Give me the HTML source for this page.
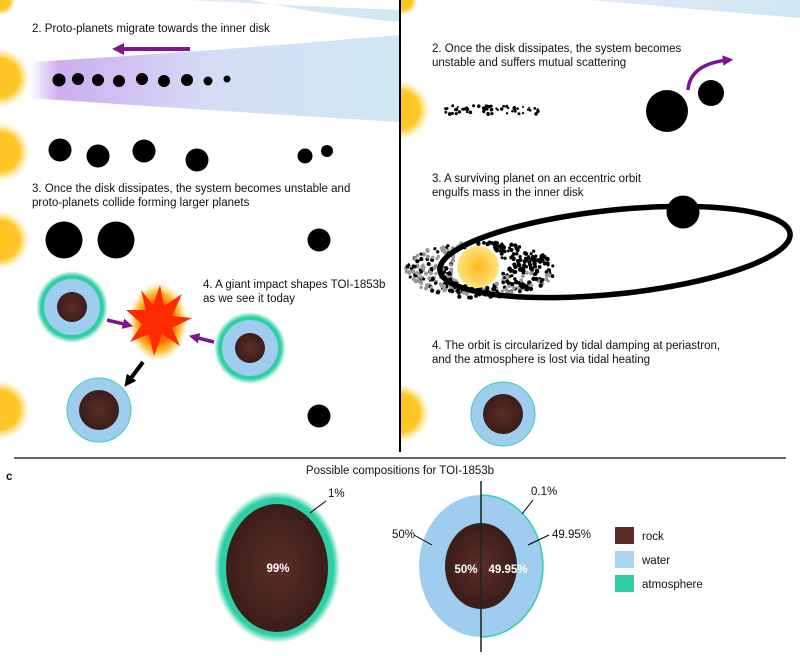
<!DOCTYPE html>
<html><head><meta charset="utf-8"><style>
html,body{margin:0;padding:0;background:#fff}
svg{display:block}
text{font-family:"Liberation Sans",sans-serif;font-size:11.5px;fill:#111}
</style></head><body>
<svg id="s" width="800" height="656" viewBox="0 0 800 656" xmlns="http://www.w3.org/2000/svg">
<defs>
<radialGradient id="sun"><stop offset="0" stop-color="#ffc21a"/><stop offset="0.65" stop-color="#ffc72a"/><stop offset="1" stop-color="#ffe58a" stop-opacity="0"/></radialGradient>
<linearGradient id="disk" x1="0" x2="1"><stop offset="0" stop-color="#c9a6ec" stop-opacity="0"/><stop offset="0.08" stop-color="#cdaef0"/><stop offset="0.5" stop-color="#d5def6"/><stop offset="1" stop-color="#cfe8f1"/></linearGradient>
<linearGradient id="disk2" x1="0" x2="1"><stop offset="0" stop-color="#e4e8fa"/><stop offset="1" stop-color="#cfe8f1"/></linearGradient>
<radialGradient id="rock"><stop offset="0" stop-color="#5a2e27"/><stop offset="1" stop-color="#3c1d19"/></radialGradient>
<radialGradient id="glow"><stop offset="0.86" stop-color="#2ecfa6"/><stop offset="1" stop-color="#2ecfa6" stop-opacity="0"/></radialGradient>
<radialGradient id="glow2"><stop offset="0.9" stop-color="#2ecfa6"/><stop offset="1" stop-color="#2ecfa6" stop-opacity="0"/></radialGradient>
<radialGradient id="fire"><stop offset="0" stop-color="#ff2a00"/><stop offset="0.5" stop-color="#ff6a00"/><stop offset="0.75" stop-color="#ffc23a"/><stop offset="1" stop-color="#ffe6b0" stop-opacity="0"/></radialGradient>
<radialGradient id="sunc"><stop offset="0" stop-color="#ffb000"/><stop offset="1" stop-color="#ffe070"/></radialGradient>
<clipPath id="rc"><rect x="401" y="0" width="399" height="456"/></clipPath>
<clipPath id="lc"><rect x="0" y="0" width="399" height="456"/></clipPath>
<marker id="ap" viewBox="0 0 10 10" refX="5" refY="5" markerWidth="3" markerHeight="3" orient="auto"><path d="M0,0L10,5L0,10z" fill="#7d1690"/></marker>
<marker id="ab" viewBox="0 0 10 10" refX="5" refY="5" markerWidth="3" markerHeight="3" orient="auto"><path d="M0,0L10,5L0,10z" fill="#000"/></marker>
</defs>

<g clip-path="url(#lc)">
<path d="M190,0 Q300,6 400,10 L400,22 Q330,16 250,0z" fill="url(#disk2)"/>
<circle cx="0" cy="0" r="16" fill="url(#sun)"/>
<path d="M30,62 Q200,52 400,35 L400,122 Q200,110 30,98z" fill="url(#disk)"/>
<circle cx="0" cy="78" r="30" fill="url(#sun)"/>
<circle cx="0" cy="152" r="30" fill="url(#sun)"/>
<circle cx="0" cy="240" r="30" fill="url(#sun)"/>
<circle cx="0" cy="410" r="30" fill="url(#sun)"/>
</g>
<text x="32" y="32">2. Proto-planets migrate towards the inner disk</text>
<line x1="190" y1="49" x2="118" y2="49" stroke="#7d1690" stroke-width="4" marker-end="url(#ap)"/>
<g fill="#000">
<circle cx="59" cy="80" r="6.5"/><circle cx="78" cy="79" r="6"/><circle cx="98" cy="80" r="6"/><circle cx="119" cy="81" r="6"/><circle cx="142" cy="79" r="6"/><circle cx="164" cy="81" r="6"/><circle cx="187" cy="80" r="6"/><circle cx="208" cy="81" r="4.5"/><circle cx="227" cy="79" r="3.5"/>
</g>
<g fill="#000">
<circle cx="60" cy="150" r="11.5"/><circle cx="98" cy="156" r="11.5"/><circle cx="144" cy="151" r="11.5"/><circle cx="197" cy="160" r="11.5"/><circle cx="305" cy="156" r="7.5"/><circle cx="327" cy="151" r="6"/>
</g>
<text x="32" y="192">3. Once the disk dissipates, the system becomes unstable and</text>
<text x="32" y="206">proto-planets collide forming larger planets</text>
<g fill="#000"><circle cx="64" cy="240" r="18.5"/><circle cx="116" cy="240" r="18.5"/><circle cx="319" cy="240" r="11.5"/></g>

<circle cx="72" cy="307" r="36" fill="url(#glow)"/>
<circle cx="72" cy="307" r="28" fill="#9fcdef"/><circle cx="72" cy="307" r="15" fill="url(#rock)"/>
<circle cx="250" cy="348" r="36" fill="url(#glow)"/>
<circle cx="250" cy="348" r="28" fill="#9fcdef"/><circle cx="250" cy="348" r="15" fill="url(#rock)"/>
<ellipse cx="158" cy="322" rx="30" ry="40" fill="url(#fire)"/>
<path d="M160,285 L164,306 L182,294 L172,316 L192,318 L172,328 L180,346 L162,334 L154,356 L149,334 L130,342 L142,324 L126,310 L146,310 L141,290 L153,305z" fill="#ff2a00"/>
<line x1="107" y1="320" x2="128" y2="325" stroke="#7d1690" stroke-width="3.5" marker-end="url(#ap)"/>
<line x1="214" y1="342" x2="194" y2="337" stroke="#7d1690" stroke-width="3.5" marker-end="url(#ap)"/>
<line x1="143" y1="362" x2="128" y2="382" stroke="#000" stroke-width="4" marker-end="url(#ab)"/>
<text x="203" y="288">4. A giant impact shapes TOI-1853b</text>
<text x="203" y="302">as we see it today</text>
<circle cx="99" cy="410" r="32" fill="#9fcdef" stroke="#3ad0b0" stroke-width="1"/><circle cx="99" cy="410" r="20" fill="url(#rock)"/>
<circle cx="319" cy="416" r="11.5" fill="#000"/>

<line x1="400" y1="0" x2="400" y2="452" stroke="#000" stroke-width="2"/>
<line x1="14" y1="458" x2="786" y2="458" stroke="#333" stroke-width="1.5"/>

<g clip-path="url(#rc)">
<path d="M590,0 Q700,10 800,18 L800,0z" fill="url(#disk2)"/>
<circle cx="402" cy="0" r="16" fill="url(#sun)"/>
<circle cx="400" cy="110" r="30" fill="url(#sun)"/>
<circle cx="400" cy="413" r="30" fill="url(#sun)"/>
</g>
<text x="432" y="52">2. Once the disk dissipates, the system becomes</text>
<text x="432" y="66">unstable and suffers mutual scattering</text>
<g id="sc" fill="#000"></g>
<circle cx="667" cy="111" r="21" fill="#000"/><circle cx="711" cy="93" r="13" fill="#000"/>
<path d="M688,90 Q690,64 728,60" fill="none" stroke="#7d1690" stroke-width="3.5" marker-end="url(#ap)"/>
<text x="432" y="182">3. A surviving planet on an eccentric orbit</text>
<text x="432" y="196">engulfs mass in the inner disk</text>
<g id="cloud"></g>
<circle cx="478" cy="267" r="21" fill="url(#sunc)" opacity="0.9"/>
<ellipse cx="615" cy="252" rx="176" ry="42" transform="rotate(-6 615 252)" fill="none" stroke="#000" stroke-width="5.5"/>
<circle cx="683" cy="212" r="16.5" fill="#000"/>
<text x="432" y="349">4. The orbit is circularized by tidal damping at periastron,</text>
<text x="432" y="363">and the atmosphere is lost via tidal heating</text>
<circle cx="503" cy="414" r="32" fill="#9fcdef" stroke="#3ad0b0" stroke-width="1"/><circle cx="503" cy="414" r="20" fill="url(#rock)"/>

<text x="6" y="480" style="font-weight:bold">c</text>
<text x="400" y="474" text-anchor="middle">Possible compositions for TOI-1853b</text>
<ellipse cx="277" cy="567" rx="63" ry="76" fill="url(#glow2)"/>
<ellipse cx="277" cy="568" rx="51" ry="64" fill="url(#rock)"/>
<text x="278" y="572" text-anchor="middle" style="fill:#fff;font-weight:bold">99%</text>
<text x="328" y="497">1%</text>
<line x1="310" y1="513" x2="326" y2="501" stroke="#000" stroke-width="1"/>

<path d="M481,495 A62,71 0 0 0 481,637z" fill="#9fcdef"/>
<path d="M481,495 A62,71 0 0 1 481,637z" fill="#9fcdef" stroke="#2ecfa6" stroke-width="1.5"/>
<ellipse cx="481" cy="566" rx="36" ry="43" fill="url(#rock)"/>
<line x1="481" y1="481" x2="481" y2="652" stroke="#222" stroke-width="1.5"/>
<text x="392" y="538">50%</text><line x1="414" y1="535" x2="432" y2="545" stroke="#000"/>
<text x="531" y="495">0.1%</text><line x1="533" y1="500" x2="522" y2="514" stroke="#000"/>
<text x="552" y="538">49.95%</text><line x1="549" y1="535" x2="528" y2="545" stroke="#000"/>
<text x="466" y="573" text-anchor="middle" style="fill:#fff;font-weight:bold">50%</text>
<text x="508" y="573" text-anchor="middle" style="fill:#fff;font-weight:bold">49.95%</text>

<rect x="615" y="527" width="19" height="17" fill="#5a2e27"/><text x="642" y="540">rock</text>
<rect x="615" y="551" width="19" height="17" fill="#a9d3f5"/><text x="642" y="564">water</text>
<rect x="615" y="575" width="19" height="17" fill="#2ecfa6"/><text x="642" y="588">atmosphere</text>
</svg>
<script>
var ns="http://www.w3.org/2000/svg",seed=7;function r(){seed=(seed*9301+49297)%233280;return seed/233280;}
var sc=document.getElementById("sc");
for(var i=0;i<60;i++){var c=document.createElementNS(ns,"circle");c.setAttribute("cx",445+r()*94);c.setAttribute("cy",110+(r()-0.5)*9);c.setAttribute("r",1+r()*0.9);sc.appendChild(c);}
var cl=document.getElementById("cloud");
for(var i=0;i<560;i++){var a=r()*6.283,d=Math.sqrt(r());var x=480+Math.cos(a)*d*75,y=270+Math.sin(a)*d*28;var inner=((x-478)*(x-478)/(26*26)+(y-267)*(y-267)/(22*22))<1;if(inner)continue;var c=document.createElementNS(ns,"circle");c.setAttribute("cx",x);c.setAttribute("cy",y);c.setAttribute("r",1.5+r()*0.8);var grey=(x<470&&r()<0.6)||(x>=470&&y>272&&r()<0.3);c.setAttribute("fill",grey?"#999":"#000");cl.appendChild(c);}
</script>
</body></html>
